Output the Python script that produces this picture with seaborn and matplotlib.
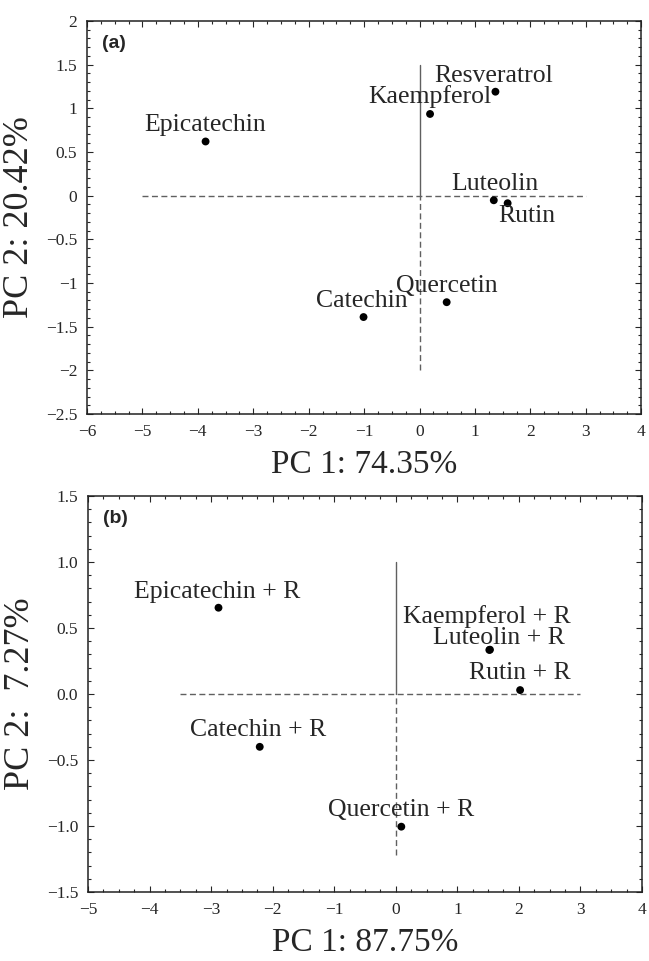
import matplotlib
matplotlib.use("Agg")
import matplotlib.pyplot as plt
from matplotlib.ticker import MultipleLocator
import seaborn as sns
import pandas as pd

# panel (a): polyphenols alone
names_a = ["Epicatechin", "Kaempferol", "Resveratrol", "Luteolin", "Rutin", "Quercetin", "Catechin"]
pc1_a = [-3.86, 0.19, 1.37, 1.34, 1.59, 0.49, -1.01]
pc2_a = [0.62, 0.935, 1.19, -0.053, -0.087, -1.22, -1.39]
# label offsets (points) relative to each dot
off_a = [(0, 7.5), (0, 8), (-1, 7), (1, 7.5), (14, -13.5), (0, 7), (-1, 7.5)]

# panel (b): polyphenols + resveratrol
names_b = ["Epicatechin + R", "Kaempferol + R", "Luteolin + R", "Rutin + R", "Catechin + R", "Quercetin + R"]
pc1_b = [-2.88, 1.53, 1.52, 2.02, -2.21, 0.09]
pc2_b = [0.654, 0.336, 0.334, 0.03, -0.40, -1.005]
off_b = [(-1, 7.2), (-2.5, 19), (7, 4), (0, 8.2), (-1, 7.6), (0, 7.4)]

xlabels = ["PC 1: 74.35%", "PC 1: 87.75%"]
ylabels = ["PC 2: 20.42%", "PC 2:  7.27%"]

sns.set_style("ticks")
plt.rcParams["font.family"] = ["Liberation Serif", "DejaVu Serif"]
plt.rcParams["axes.unicode_minus"] = True

fig = plt.figure(figsize=(6.49, 9.61), dpi=100)
ax1 = fig.add_axes([0.134, 0.5692, 0.854, 0.409])
ax2 = fig.add_axes([0.1356, 0.0718, 0.8536, 0.412])

guide = dict(color="#606060", lw=1.0)
dash = (0, (4.3, 2.5))


def panel(ax, names, xs, ys, offs, xlim, ylim, xmaj, ymaj, ymin, hline, vtop, vbot, tag, xl, yl, yfmt):
    df = pd.DataFrame({"pc1": xs, "pc2": ys, "name": names})
    # reference cross
    ax.plot([hline[0], hline[1]], [0, 0], ls=dash, **guide, zorder=1)
    ax.plot([0, 0], [0, vtop], ls="-", **guide, zorder=1)
    ax.plot([0, 0], [vbot, 0], ls=dash, **guide, zorder=1)
    sns.scatterplot(data=df, x="pc1", y="pc2", ax=ax, color="black", s=32,
                    edgecolor="none", zorder=3, legend=False)
    for n, x, y, o in zip(names, xs, ys, offs):
        ax.annotate(n, (x, y), xytext=o, textcoords="offset points",
                    ha="center", va="baseline", fontsize=18.5)
    ax.set_xlim(*xlim)
    ax.set_ylim(*ylim)
    ax.xaxis.set_major_locator(MultipleLocator(xmaj))
    ax.xaxis.set_minor_locator(MultipleLocator(xmaj / 4))
    ax.yaxis.set_major_locator(MultipleLocator(ymaj))
    ax.yaxis.set_minor_locator(MultipleLocator(ymin))
    ax.yaxis.set_major_formatter(yfmt)
    ax.tick_params(which="both", direction="in", top=True, right=True, labelsize=12.5, width=0.8, pad=7)
    ax.tick_params(which="major", length=4.5)
    ax.tick_params(which="minor", length=2.5)
    for s in ax.spines.values():
        s.set_linewidth(1.1)
        s.set_color("#222222")
    ax.set_xlabel(xl, fontsize=24, labelpad=7)
    ax.set_ylabel(yl, fontsize=26, labelpad=7)
    ax.text(0.027, 0.965, tag, transform=ax.transAxes, ha="left", va="top",
            fontsize=14, fontweight="bold", family="Liberation Sans")


panel(ax1, names_a, pc1_a, pc2_a, off_a, (-6, 4), (-2.5, 2), 1, 0.5, 0.1,
      (-5, 3), 1.5, -2.0, "(a)", xlabels[0], ylabels[0], "{x:g}")
panel(ax2, names_b, pc1_b, pc2_b, off_b, (-5, 4), (-1.5, 1.5), 1, 0.5, 0.1,
      (-3.5, 3), 1.0, -1.22, "(b)", xlabels[1], ylabels[1], "{x:.1f}")

fig.savefig("out.png", dpi=100)
